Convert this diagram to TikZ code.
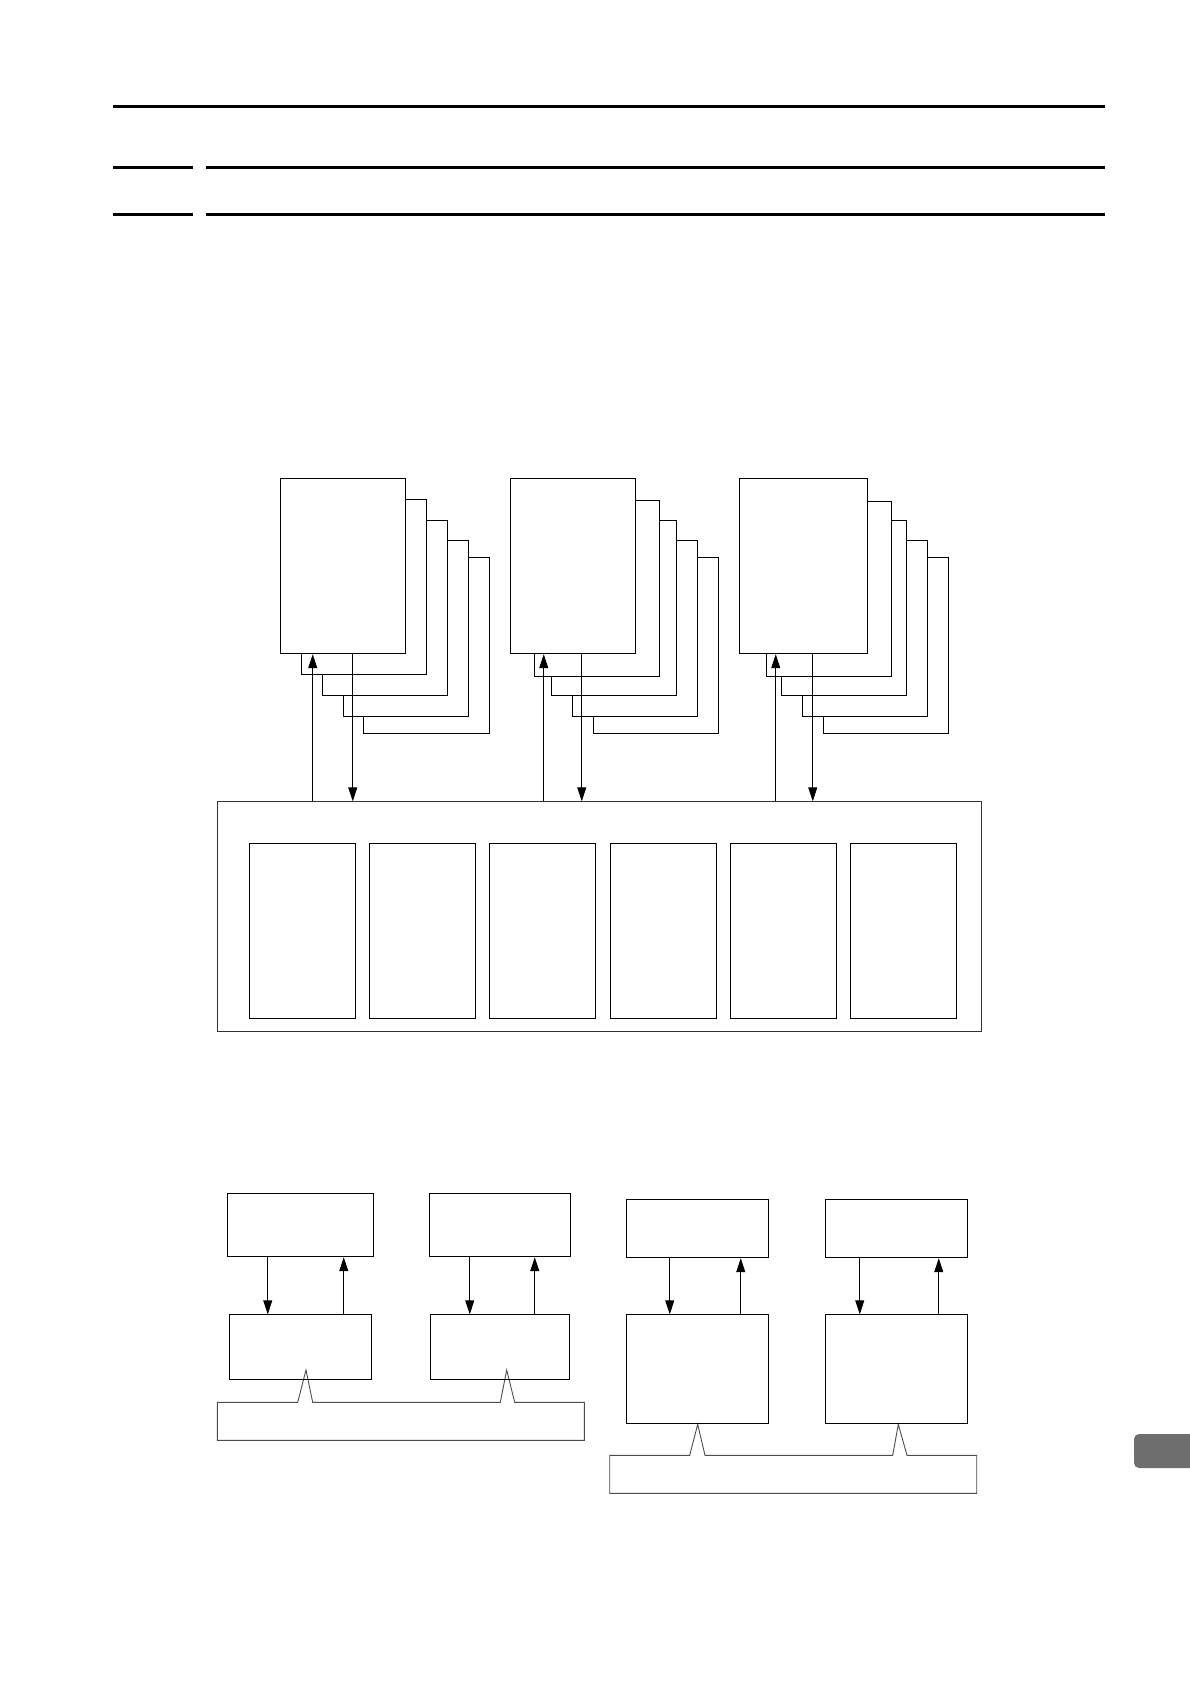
\documentclass[tikz,border=0pt]{standalone}
\usepackage{tikz}
\usetikzlibrary{calc,arrows.meta}
\tikzset{
	box/.style={draw, line width=0.9pt, fill=white, inner sep=0pt, anchor=north west},
	arr/.style={line width=0.9pt, -{Triangle[length=14pt,width=9pt]}},
	bus/.style={draw=black!70, line width=0.9pt, fill=white}
}
\def\sheet(#1,#2)(#3,#4){\draw[line width=0.9pt, fill=white] (#1,#2) rectangle (#3,#4);}

\begin{document}
\begin{tikzpicture}[x=1pt, y=-1pt]
			%%%%% START %%%%%
			\useasboundingbox (0,0) rectangle (1190,1684);
			
			\draw[line width=3pt] (113,106) -- (1105,106);
			\draw[line width=3pt] (113,167) -- (193,167);
			\draw[line width=3pt] (206,167) -- (1105,167);
			\draw[line width=3pt] (113,214) -- (193,214);
			\draw[line width=3pt] (206,214) -- (1105,214);
			
			% first stack
			\sheet(363.3,557.3)(489.3,733.3);
			\sheet(343.3,540.3)(468.3,716.3);
			\sheet(322.3,520.3)(447.3,695.3);
			\sheet(301,499.3)(426.3,674.3);
			\node[box, minimum width=125pt, minimum height=175pt] (cpuA) at (280.3,478.3) {};
			
			% second stack
			\sheet(593.3,557.3)(718.3,733.3);
			\sheet(572.3,540.3)(697.3,716.3);
			\sheet(551.3,520.3)(676.3,695.3);
			\sheet(534.3,500.3)(659.3,676.3);
			\node[box, minimum width=125pt, minimum height=175pt] (cpuB) at (510.3,478.3) {};
			
			% third stack
			\sheet(823.3,557.3)(948.3,733.3);
			\sheet(802.3,540.3)(927.3,716.3);
			\sheet(781.3,520.3)(906.3,695.3);
			\sheet(766.3,501.3)(891.3,676.3);
			\node[box, minimum width=128pt, minimum height=175pt] (cpuC) at (739.3,478.3) {};
			
			% shared memory
			\node[box, draw=black!80, minimum width=764pt, minimum height=229.7pt] (mem) at (217.3,801.3) {};
			\node[box, minimum width=106pt, minimum height=175pt] (modA) at (249.3,843.3) {};
			\node[box, minimum width=106pt, minimum height=175pt] (modB) at (369.3,843.3) {};
			\node[box, minimum width=106pt, minimum height=175pt] (modC) at (489.3,843.3) {};
			\node[box, minimum width=106pt, minimum height=175pt] (modD) at (610.3,843.3) {};
			\node[box, minimum width=106pt, minimum height=175pt] (modE) at (730.3,843.3) {};
			\node[box, minimum width=106pt, minimum height=175pt] (modF) at (850.3,843.3) {};
			
			\coordinate (upA) at ([xshift=-30.5pt]cpuA.south);
			\coordinate (dnA) at ([xshift=9.5pt]cpuA.south);
			\coordinate (upB) at ([xshift=-29.5pt]cpuB.south);
			\coordinate (dnB) at ([xshift=8.5pt]cpuB.south);
			\coordinate (upC) at ([xshift=-28pt]cpuC.south);
			\coordinate (dnC) at ([xshift=9pt]cpuC.south);
			\draw[arr] (upA |- mem.north) -- (upA);
			\draw[arr] (dnA) -- (dnA |- mem.north);
			\draw[arr] (upB |- mem.north) -- (upB);
			\draw[arr] (dnB) -- (dnB |- mem.north);
			\draw[arr] (upC |- mem.north) -- (upC);
			\draw[arr] (dnC) -- (dnC |- mem.north);
			
			% lower left
			\draw[bus] (217.3,1402.3) -- (297.7,1402.3) -- (306,1370) -- (312.7,1402.3) -- (500.3,1402.3) -- (506.7,1370) -- (514.7,1402.3) -- (584.3,1402.3) -- (584.3,1440.3) -- (217.3,1440.3) -- cycle;
			\node[box, fill=none, minimum width=146pt, minimum height=63pt] (hostA) at (227.3,1193.3) {};
			\node[box, fill=none, minimum width=141pt, minimum height=63pt] (hostB) at (429.3,1193.3) {};
			\node[box, fill=none, minimum width=142pt, minimum height=65pt] (devA) at (229.3,1314.3) {};
			\node[box, fill=none, minimum width=139pt, minimum height=65pt] (devB) at (430.3,1314.3) {};
			\draw[arr] ([xshift=-33pt]hostA.south) -- ([xshift=-33pt]devA.north);
			\draw[arr] ([xshift=43pt]devA.north) -- ([xshift=43pt]hostA.south);
			\draw[arr] ([xshift=-30.5pt]hostB.south) -- ([xshift=-30.5pt]devB.north);
			\draw[arr] ([xshift=34.5pt]devB.north) -- ([xshift=34.5pt]hostB.south);
			
			% lower right
			\draw[bus] (609.7,1455.3) -- (689.7,1455.3) -- (697.7,1424.3) -- (705,1455.3) -- (892.7,1455.3) -- (898.3,1424.3) -- (907,1455.3) -- (976.7,1455.3) -- (976.7,1493.3) -- (609.7,1493.3) -- cycle;
			\node[box, fill=none, minimum width=142pt, minimum height=58pt] (hostC) at (626.3,1199.3) {};
			\node[box, fill=none, minimum width=142pt, minimum height=58pt] (hostD) at (825.3,1199.3) {};
			\node[box, fill=none, minimum width=142pt, minimum height=109pt] (devC) at (626.3,1314.3) {};
			\node[box, fill=none, minimum width=142pt, minimum height=109pt] (devD) at (825.3,1314.3) {};
			\draw[arr] ([xshift=-28pt]hostC.south) -- ([xshift=-28pt]devC.north);
			\draw[arr] ([xshift=43pt]devC.north) -- ([xshift=43pt]hostC.south);
			\draw[arr] ([xshift=-37pt]hostD.south) -- ([xshift=-37pt]devD.north);
			\draw[arr] ([xshift=42pt]devD.north) -- ([xshift=42pt]hostD.south);
			
			\fill[color=black!57, rounded corners=5pt] (1134,1434) rectangle (1200,1468);
			
			%%%%% END %%%%%
		\end{tikzpicture}
\end{document}
